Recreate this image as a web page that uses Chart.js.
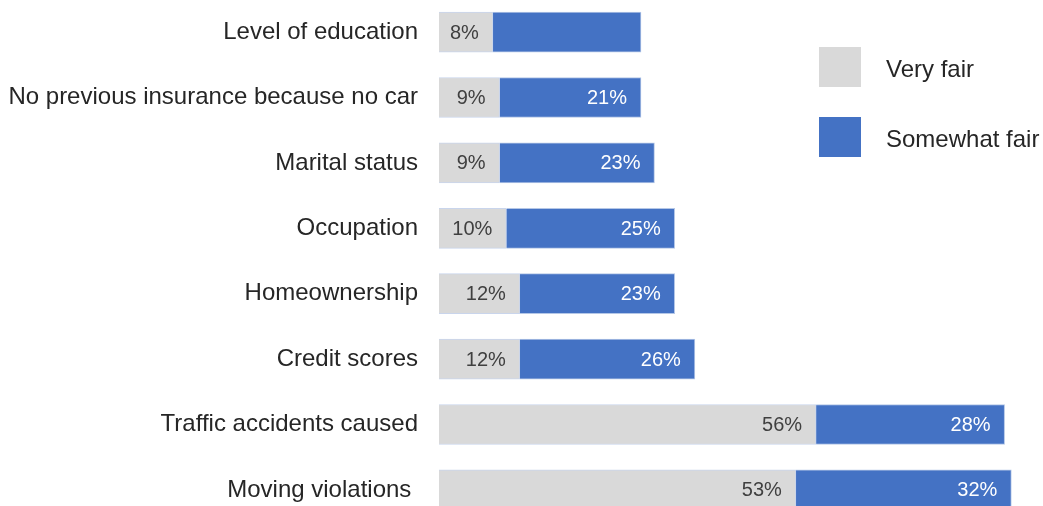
<!DOCTYPE html>
<html>
<head>
<meta charset="utf-8">
<script src="https://cdn.jsdelivr.net/npm/chart.js@4"></script>
<style>
html,body{margin:0;padding:0;background:#fff;overflow:hidden;width:1043px;height:506px;}
#wrap{position:absolute;left:0;top:-36px;width:1043px;height:594px;}
</style>
</head>
<body>
<div id="wrap"><canvas id="c"></canvas></div>
<script>
const categories = ["Level of education","No previous insurance because no car","Marital status","Occupation","Homeownership","Credit scores","Traffic accidents caused","Moving violations "];
const veryFair = [8, 9, 9, 10, 12, 12, 56, 53];
const somewhatFair = [22, 21, 23, 25, 23, 26, 28, 32];
const veryFairLabels = ["8%","9%","9%","10%","12%","12%","56%","53%"];
const somewhatFairLabels = ["","21%","23%","25%","23%","26%","28%","32%"];
const seriesNames = ["Very fair","Somewhat fair"];
const colors = ["#D9D9D9","#4472C4"];

const FONT = "'Liberation Sans', Arial, sans-serif";
const OFF = 36; // wrapper offset

const labelPlugin = {
  id: 'insideEndLabels',
  afterDatasetsDraw(chart) {
    const ctx = chart.ctx;
    const lbls = [veryFairLabels, somewhatFairLabels];
    const txtColors = ["#404040", "#FFFFFF"];
    ctx.save();
    ctx.font = "20px " + FONT;
    ctx.textAlign = "right";
    ctx.textBaseline = "middle";
    chart.data.datasets.forEach((ds, di) => {
      const meta = chart.getDatasetMeta(di);
      meta.data.forEach((bar, i) => {
        const t = lbls[di][i];
        if (!t) return;
        ctx.fillStyle = txtColors[di];
        ctx.fillText(t, bar.x - 14, bar.y + 1);
      });
    });
    ctx.restore();
  }
};

const legendPlugin = {
  id: 'customLegend',
  afterDraw(chart) {
    const ctx = chart.ctx;
    ctx.save();
    [47, 117].forEach((y, i) => {
      ctx.fillStyle = colors[i];
      ctx.fillRect(819, y + OFF, 42, 40);
      ctx.fillStyle = "#262626";
      ctx.font = "24px " + FONT;
      ctx.textAlign = "left";
      ctx.textBaseline = "middle";
      ctx.fillText(seriesNames[i], 886, y + OFF + 23);
    });
    ctx.restore();
  }
};

new Chart(document.getElementById('c'), {
  type: 'bar',
  data: {
    labels: categories,
    datasets: [
      {label: seriesNames[0], data: veryFair, backgroundColor: colors[0], borderColor: "#C9D5EC", borderWidth: 1, barThickness: 40},
      {label: seriesNames[1], data: somewhatFair, backgroundColor: colors[1], borderColor: "#B4C7E7", borderWidth: 1, barThickness: 40}
    ]
  },
  options: {
    indexAxis: 'y',
    responsive: true,
    maintainAspectRatio: false,
    animation: false,
    plugins: {legend: {display: false}, tooltip: {enabled: false}},
    scales: {
      x: {stacked: true, min: 0, max: 89.7, display: false},
      y: {
        stacked: true,
        grid: {display: false, drawTicks: false},
        border: {display: false},
        ticks: {padding: 21, color: "#262626", font: {family: FONT, size: 24}},
        afterFit(scale) { scale.width = 439; }
      }
    }
  },
  plugins: [labelPlugin, legendPlugin]
});
</script>
</body>
</html>
